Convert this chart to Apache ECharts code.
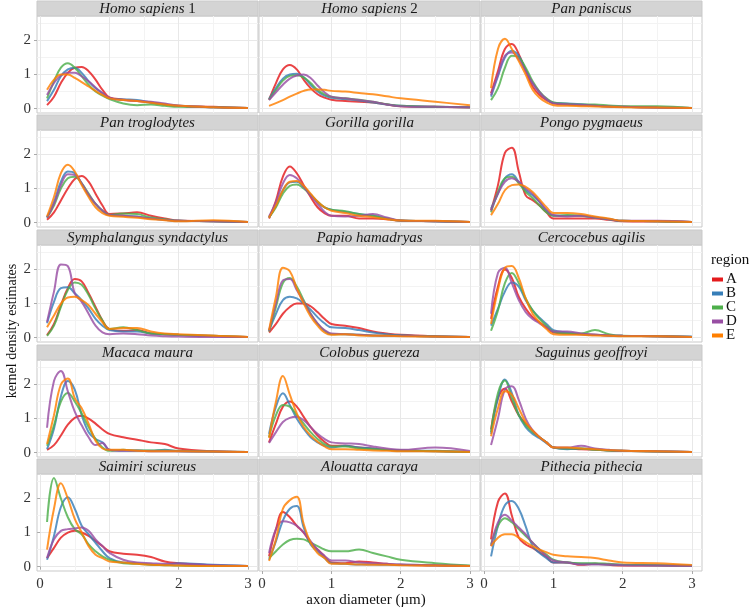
<!DOCTYPE html>
<html><head><meta charset="utf-8">
<script src="https://cdn.jsdelivr.net/npm/echarts@6/dist/echarts.min.js"></script>
<style>html,body{margin:0;padding:0;background:#fff}#c{width:750px;height:610px}</style>
</head><body><div id="c"></div><script>
// axon diameter grid (µm)
const xs = [0.1,0.2,0.3,0.4,0.5,0.6,0.7,0.8,0.9,1.0,1.2,1.4,1.6,1.8,2.0,2.5,3.0];
const regions = ['A','B','C','D','E'];
const speciesNames = ['Homo sapiens 1','Homo sapiens 2','Pan paniscus','Pan troglodytes','Gorilla gorilla','Pongo pygmaeus',
  'Symphalangus syndactylus','Papio hamadryas','Cercocebus agilis','Macaca maura','Colobus guereza','Saguinus geoffroyi',
  'Saimiri sciureus','Alouatta caraya','Pithecia pithecia'];
const xTicks = [0,1,2,3];
const yTicks = [0,1,2];

// density values per species, regions A..E
const homoSapiens1 = [
 [0.1,0.35,0.75,1.05,1.2,1.22,1.1,0.85,0.55,0.33,0.27,0.22,0.18,0.12,0.08,0.05,0.02],
 [0.22,0.55,0.95,1.15,1.2,1.05,0.8,0.6,0.45,0.3,0.27,0.25,0.18,0.12,0.08,0.04,0.02],
 [0.3,0.8,1.2,1.33,1.2,0.95,0.7,0.5,0.38,0.28,0.15,0.1,0.12,0.08,0.05,0.04,0.02],
 [0.4,0.75,0.98,1.05,1.05,0.95,0.8,0.62,0.45,0.32,0.25,0.22,0.2,0.15,0.08,0.04,0.02],
 [0.55,0.85,1.0,1.0,0.9,0.78,0.65,0.52,0.4,0.3,0.25,0.22,0.17,0.12,0.08,0.04,0.02]];
const homoSapiens2 = [
 [0.26,0.75,1.15,1.28,1.15,0.85,0.6,0.42,0.32,0.26,0.22,0.2,0.18,0.12,0.07,0.05,0.03],
 [0.28,0.6,0.88,1.0,1.02,0.92,0.7,0.5,0.38,0.32,0.28,0.24,0.18,0.12,0.08,0.05,0.04],
 [0.26,0.55,0.82,0.96,0.98,0.92,0.75,0.55,0.42,0.35,0.3,0.26,0.2,0.13,0.08,0.05,0.04],
 [0.25,0.48,0.7,0.88,0.97,1.0,0.9,0.68,0.48,0.35,0.3,0.25,0.2,0.12,0.07,0.05,0.04],
 [0.08,0.16,0.25,0.35,0.44,0.52,0.56,0.56,0.55,0.52,0.5,0.46,0.42,0.36,0.3,0.2,0.1]];
const panPaniscus = [
 [0.45,1.1,1.75,1.9,1.6,1.1,0.65,0.4,0.25,0.15,0.12,0.1,0.08,0.06,0.05,0.03,0.02],
 [0.35,0.95,1.5,1.7,1.55,1.15,0.75,0.48,0.28,0.17,0.15,0.13,0.09,0.06,0.05,0.03,0.02],
 [0.25,0.6,1.2,1.55,1.5,1.2,0.8,0.5,0.3,0.18,0.14,0.12,0.12,0.09,0.07,0.07,0.02],
 [0.4,1.0,1.55,1.65,1.45,1.1,0.75,0.48,0.28,0.16,0.13,0.11,0.08,0.06,0.05,0.03,0.02],
 [0.6,1.75,2.05,1.75,1.4,1.0,0.55,0.32,0.18,0.1,0.08,0.07,0.06,0.05,0.04,0.03,0.02]];
const panTroglodytes = [
 [0.08,0.3,0.65,1.0,1.28,1.37,1.2,0.85,0.5,0.25,0.27,0.3,0.2,0.12,0.06,0.04,0.02],
 [0.15,0.6,1.2,1.5,1.45,1.15,0.8,0.55,0.35,0.22,0.2,0.18,0.12,0.08,0.05,0.04,0.02],
 [0.15,0.5,1.0,1.3,1.35,1.15,0.85,0.55,0.35,0.22,0.27,0.25,0.15,0.1,0.05,0.04,0.02],
 [0.15,0.55,1.1,1.42,1.4,1.15,0.82,0.55,0.35,0.22,0.2,0.17,0.12,0.08,0.05,0.04,0.02],
 [0.18,0.75,1.45,1.7,1.5,1.1,0.75,0.45,0.28,0.2,0.17,0.14,0.1,0.07,0.04,0.07,0.02]];
const gorillaGorilla = [
 [0.12,0.65,1.35,1.65,1.45,1.1,0.75,0.45,0.28,0.2,0.2,0.12,0.12,0.1,0.05,0.04,0.02],
 [0.15,0.5,0.95,1.18,1.2,1.05,0.82,0.6,0.45,0.38,0.32,0.25,0.2,0.12,0.06,0.04,0.02],
 [0.15,0.45,0.85,1.08,1.12,1.0,0.82,0.62,0.45,0.38,0.33,0.25,0.2,0.12,0.06,0.04,0.02],
 [0.18,0.6,1.15,1.4,1.3,1.05,0.8,0.55,0.32,0.2,0.18,0.2,0.25,0.15,0.06,0.04,0.02],
 [0.15,0.5,0.95,1.2,1.22,1.08,0.85,0.62,0.45,0.35,0.28,0.2,0.16,0.1,0.06,0.05,0.02]];
const pongoPygmaeus = [
 [0.36,1.1,2.05,2.2,1.5,0.8,0.66,0.5,0.3,0.12,0.12,0.12,0.12,0.08,0.04,0.03,0.02],
 [0.41,0.85,1.3,1.42,1.2,0.95,0.8,0.6,0.35,0.2,0.2,0.2,0.15,0.1,0.05,0.04,0.02],
 [0.3,0.9,1.3,1.35,1.15,0.9,0.72,0.5,0.3,0.2,0.22,0.2,0.15,0.1,0.05,0.04,0.02],
 [0.35,0.85,1.2,1.3,1.2,1.0,0.85,0.62,0.38,0.22,0.18,0.2,0.15,0.1,0.05,0.05,0.02],
 [0.22,0.55,0.95,1.1,1.12,1.05,0.9,0.68,0.45,0.28,0.28,0.25,0.18,0.12,0.05,0.04,0.02]];
const symphalangusSyndactylus = [
 [0.07,0.4,0.95,1.45,1.72,1.65,1.3,0.9,0.5,0.25,0.2,0.22,0.12,0.1,0.08,0.05,0.02],
 [0.42,1.05,1.45,1.48,1.3,1.1,0.85,0.55,0.35,0.22,0.18,0.18,0.12,0.1,0.08,0.04,0.02],
 [0.05,0.35,0.9,1.4,1.62,1.55,1.25,0.85,0.5,0.25,0.3,0.22,0.12,0.1,0.08,0.05,0.02],
 [0.46,1.35,2.15,2.1,1.3,1.05,0.7,0.35,0.15,0.1,0.12,0.1,0.06,0.04,0.03,0.02,0.02],
 [0.3,0.65,1.0,1.18,1.2,1.1,0.95,0.7,0.45,0.25,0.28,0.28,0.18,0.12,0.1,0.05,0.02]];
const papioHamadryas = [
 [0.15,0.4,0.7,0.9,1.0,1.0,0.92,0.75,0.55,0.4,0.35,0.28,0.18,0.12,0.08,0.04,0.02],
 [0.2,0.7,1.1,1.2,1.15,1.0,0.82,0.6,0.42,0.3,0.28,0.22,0.15,0.1,0.07,0.04,0.02],
 [0.18,0.9,1.6,1.75,1.5,1.1,0.7,0.4,0.2,0.1,0.1,0.08,0.06,0.05,0.05,0.03,0.02],
 [0.2,1.0,1.68,1.72,1.4,1.05,0.7,0.42,0.22,0.12,0.1,0.08,0.06,0.05,0.05,0.03,0.02],
 [0.22,1.2,2.05,1.95,1.45,1.0,0.62,0.35,0.15,0.08,0.1,0.06,0.05,0.05,0.04,0.03,0.02]];
const cercocebusAgilis = [
 [0.55,1.5,2.0,1.75,1.2,0.85,0.6,0.45,0.3,0.15,0.12,0.1,0.08,0.06,0.05,0.04,0.02],
 [0.35,0.85,1.35,1.62,1.5,1.1,0.8,0.58,0.4,0.22,0.15,0.1,0.08,0.06,0.05,0.04,0.03],
 [0.2,0.8,1.6,1.9,1.6,1.15,0.8,0.55,0.35,0.18,0.12,0.12,0.22,0.1,0.05,0.04,0.02],
 [0.7,1.9,2.05,1.6,1.1,0.75,0.55,0.42,0.3,0.18,0.18,0.12,0.08,0.06,0.05,0.04,0.02],
 [0.4,1.4,2.05,2.1,1.75,1.15,0.7,0.45,0.25,0.1,0.08,0.08,0.06,0.05,0.04,0.04,0.02]];
const macacaMaura = [
 [0.08,0.22,0.5,0.82,1.02,1.08,1.0,0.85,0.68,0.55,0.45,0.38,0.3,0.25,0.12,0.04,0.02],
 [0.1,0.7,1.65,2.1,1.85,1.1,0.6,0.4,0.3,0.08,0.05,0.06,0.05,0.08,0.04,0.03,0.02],
 [0.2,0.8,1.5,1.75,1.5,1.15,0.75,0.4,0.15,0.05,0.08,0.06,0.06,0.06,0.05,0.03,0.02],
 [0.73,2.1,2.4,1.8,1.2,0.8,0.45,0.22,0.28,0.08,0.05,0.05,0.04,0.04,0.04,0.03,0.02],
 [0.25,1.1,2.0,2.18,1.6,1.3,0.85,0.35,0.12,0.08,0.08,0.05,0.04,0.04,0.04,0.03,0.02]];
const colobusGuereza = [
 [0.3,0.85,1.35,1.5,1.35,1.05,0.75,0.5,0.32,0.2,0.2,0.15,0.12,0.08,0.06,0.04,0.02],
 [0.55,1.35,1.74,1.4,1.0,0.7,0.45,0.3,0.2,0.15,0.2,0.15,0.12,0.08,0.06,0.05,0.02],
 [0.45,1.1,1.4,1.35,1.1,0.85,0.6,0.4,0.25,0.18,0.18,0.12,0.1,0.08,0.06,0.04,0.02],
 [0.28,0.6,0.9,1.02,1.05,0.95,0.75,0.55,0.4,0.3,0.27,0.25,0.18,0.12,0.08,0.15,0.05],
 [0.43,1.5,2.25,1.7,1.15,0.75,0.5,0.32,0.18,0.1,0.1,0.08,0.06,0.05,0.04,0.04,0.02]];
const saguinusGeoffroyi = [
 [0.68,1.6,1.88,1.5,1.1,0.85,0.65,0.45,0.3,0.15,0.12,0.1,0.08,0.06,0.05,0.03,0.02],
 [0.55,1.6,2.15,1.75,1.1,0.75,0.55,0.42,0.28,0.15,0.1,0.12,0.1,0.06,0.05,0.04,0.02],
 [0.6,1.75,2.12,1.6,1.1,0.8,0.6,0.45,0.3,0.15,0.12,0.12,0.08,0.06,0.05,0.03,0.02],
 [0.22,1.0,1.85,1.95,1.55,1.0,0.65,0.45,0.3,0.15,0.15,0.2,0.12,0.08,0.05,0.04,0.02],
 [0.48,1.3,1.8,1.7,1.3,0.9,0.65,0.45,0.3,0.15,0.15,0.12,0.1,0.07,0.05,0.04,0.02]];
const saimiriSciureus = [
 [0.25,0.55,0.85,1.0,1.05,1.0,0.9,0.75,0.6,0.45,0.38,0.35,0.28,0.15,0.1,0.04,0.02],
 [0.2,0.9,1.75,2.04,1.7,1.2,0.95,0.7,0.45,0.25,0.12,0.1,0.06,0.05,0.1,0.05,0.02],
 [1.31,2.6,2.0,1.45,1.1,0.95,0.65,0.45,0.3,0.2,0.1,0.08,0.05,0.04,0.03,0.02,0.02],
 [0.25,0.8,1.05,1.1,1.12,1.15,1.05,0.8,0.6,0.4,0.2,0.12,0.1,0.08,0.08,0.04,0.02],
 [0.5,1.7,2.45,2.0,1.4,1.0,0.6,0.35,0.25,0.15,0.12,0.08,0.05,0.04,0.03,0.02,0.02]];
const alouattaCaraya = [
 [0.3,1.1,1.6,1.45,1.2,1.0,0.7,0.5,0.3,0.12,0.1,0.15,0.12,0.08,0.05,0.03,0.02],
 [0.2,0.75,1.35,1.7,1.78,1.15,0.65,0.45,0.25,0.1,0.08,0.06,0.06,0.05,0.05,0.04,0.02],
 [0.25,0.45,0.65,0.78,0.82,0.8,0.7,0.6,0.5,0.45,0.45,0.5,0.4,0.3,0.2,0.1,0.03],
 [0.4,1.1,1.33,1.3,1.2,1.0,0.75,0.5,0.32,0.18,0.18,0.12,0.1,0.08,0.06,0.04,0.02],
 [0.17,0.8,1.7,1.95,2.05,1.25,0.7,0.4,0.25,0.08,0.08,0.06,0.05,0.05,0.04,0.03,0.02]];
const pitheciaPithecia = [
 [0.8,1.9,2.15,1.5,0.85,0.65,0.55,0.42,0.28,0.12,0.12,0.05,0.08,0.05,0.03,0.03,0.02],
 [0.3,1.2,1.8,1.93,1.7,1.18,0.6,0.4,0.25,0.12,0.12,0.08,0.08,0.06,0.05,0.04,0.03],
 [0.64,1.2,1.42,1.3,1.1,0.9,0.7,0.5,0.35,0.2,0.12,0.1,0.1,0.08,0.05,0.04,0.02],
 [0.6,1.3,1.52,1.35,1.15,0.95,0.7,0.5,0.32,0.18,0.12,0.06,0.06,0.06,0.04,0.03,0.02],
 [0.6,0.85,0.95,0.95,0.85,0.72,0.6,0.5,0.42,0.35,0.3,0.28,0.25,0.18,0.12,0.1,0.05]];

const panels = [homoSapiens1, homoSapiens2, panPaniscus, panTroglodytes, gorillaGorilla, pongoPygmaeus,
  symphalangusSyndactylus, papioHamadryas, cercocebusAgilis, macacaMaura, colobusGuereza, saguinusGeoffroyi,
  saimiriSciureus, alouattaCaraya, pitheciaPithecia];

// ---- styling / layout ----
const FONT = '"Liberation Serif", "DejaVu Serif", serif';
const colors = ['#E41A1C','#377EB8','#4DAF4A','#984EA3','#FF7F00'];
const colLeft = [37, 259, 481], panelW = 221;
const stripTop = [1, 115, 230, 345, 459], stripH = 15;
const plotTop = [16, 130, 245, 360, 474], plotH = 97;
const X_MIN = -0.045, X_MAX = 3.145, Y_MIN = -0.13, Y_MAX = 2.72;
const xGrid = [0,0.5,1,1.5,2,2.5,3];
const yGrid = [0,0.5,1,1.5,2,2.5];

const grids = [], xAxes = [], yAxes = [], series = [], graphics = [];
panels.forEach((vals, i) => {
  const r = Math.floor(i / 3), c = i % 3;
  grids.push({left: colLeft[c], top: plotTop[r], width: panelW, height: plotH, show: true,
    borderColor: '#c9c9c9', borderWidth: 1, backgroundColor: '#fff'});
  const gi = grids.length - 1;
  const xi = xAxes.length, yi = yAxes.length;
  xAxes.push({gridIndex: gi, type: 'value', min: X_MIN, max: X_MAX, axisLine: {show: false},
    axisTick: {show: false, customValues: xGrid}, axisLabel: {show: false},
    splitLine: {show: true, lineStyle: {color: ['#e8e8e8', '#f3f3f3'], width: 1}}});
  yAxes.push({gridIndex: gi, type: 'value', min: Y_MIN, max: Y_MAX, axisLine: {show: false},
    axisTick: {show: false, customValues: yGrid}, axisLabel: {show: false},
    splitLine: {show: true, lineStyle: {color: ['#e8e8e8', '#f3f3f3'], width: 1}}});
  if (r === 4) {
    xAxes.push({gridIndex: gi, type: 'value', min: X_MIN, max: X_MAX, position: 'bottom',
      axisLine: {show: false}, splitLine: {show: false},
      axisTick: {show: true, length: 3, customValues: xTicks, lineStyle: {color: '#aaa'}},
      axisLabel: {show: true, customValues: xTicks, margin: 6, fontFamily: FONT, fontSize: 15, color: '#333'}});
  }
  if (c === 0) {
    yAxes.push({gridIndex: gi, type: 'value', min: Y_MIN, max: Y_MAX, position: 'left',
      axisLine: {show: false}, splitLine: {show: false},
      axisTick: {show: true, length: 3, customValues: yTicks, lineStyle: {color: '#aaa'}},
      axisLabel: {show: true, customValues: yTicks, margin: 6, fontFamily: FONT, fontSize: 15, color: '#333'}});
  }
  vals.forEach((ys, k) => {
    series.push({type: 'line', name: regions[k], xAxisIndex: xi, yAxisIndex: yi,
      data: xs.map((x, j) => [x, ys[j]]), smooth: 0.4, showSymbol: false, symbol: 'none',
      lineStyle: {width: 2, color: colors[k], opacity: 0.82}, itemStyle: {color: colors[k]}, z: 3});
  });
  // strip
  const nm = speciesNames[i];
  const m = nm.match(/^(.*?)( \d)?$/);
  graphics.push({type: 'rect', shape: {x: colLeft[c], y: stripTop[r], width: panelW, height: stripH},
    style: {fill: '#d4d4d4', stroke: '#c9c9c9', lineWidth: 1}});
  graphics.push({type: 'text', x: colLeft[c] + panelW / 2, y: stripTop[r] + stripH / 2 + 0.5,
    style: {text: '{i|' + m[1] + '}' + (m[2] ? '{n|' + m[2] + '}' : ''), align: 'center', verticalAlign: 'middle',
      rich: {i: {fontFamily: FONT, fontStyle: 'italic', fontSize: 15, fill: '#1a1a1a'},
             n: {fontFamily: FONT, fontSize: 15, fill: '#1a1a1a'}}}});
});

graphics.push({type: 'text', x: 12, y: 331, rotation: Math.PI / 2,
  style: {text: 'kernel density estimates', align: 'center', verticalAlign: 'middle', fontFamily: FONT, fontSize: 14, fill: '#111'}});
graphics.push({type: 'text', x: 366, y: 600,
  style: {text: 'axon diameter (µm)', align: 'center', verticalAlign: 'middle', fontFamily: FONT, fontSize: 15, fill: '#111'}});
graphics.push({type: 'text', x: 711, y: 260,
  style: {text: 'region', align: 'left', verticalAlign: 'middle', fontFamily: FONT, fontSize: 15, fill: '#111'}});

const chart = echarts.init(document.getElementById('c'), null, {renderer: 'canvas'});
chart.setOption({
  animation: false,
  backgroundColor: '#fff',
  grid: grids, xAxis: xAxes, yAxis: yAxes, series: series,
  legend: {data: regions, orient: 'vertical', left: 707, top: 267, itemWidth: 11, itemHeight: 4,
    itemGap: -1, icon: 'rect', selectedMode: false,
    textStyle: {fontFamily: FONT, fontSize: 15, color: '#111', padding: [0, 0, 0, -2]}},
  graphic: graphics
});
</script></body></html>
